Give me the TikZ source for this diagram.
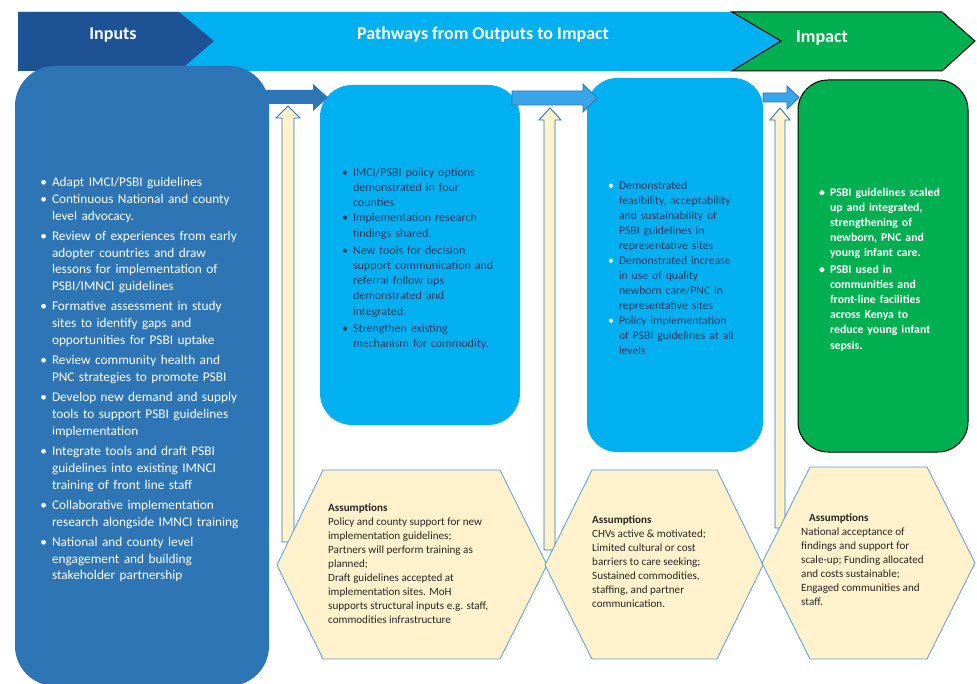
\documentclass[tikz,border=0pt]{standalone}
\usepackage{fontspec}
\setmainfont{Carlito}
\usepackage{enumitem}
\usetikzlibrary{positioning,calc}
\definecolor{bandnavy}{HTML}{1D5294}
\definecolor{skyblue}{HTML}{00B0F0}
\definecolor{midblue}{HTML}{2E75B6}
\definecolor{impgreen}{HTML}{00B050}
\definecolor{cream}{HTML}{FFF2CC}
\definecolor{hexline}{HTML}{5B9BD5}
\definecolor{navytext}{HTML}{1F3864}
\definecolor{arrowblue}{HTML}{3AA6EA}
\definecolor{notegray}{HTML}{262626}
\setlist[itemize]{topsep=0pt,partopsep=0pt,parsep=0pt,itemsep=0pt,
  label=\textbullet}
\tikzset{
  bandtext/.style={text=white,font=\fontsize{18}{20}\selectfont\bfseries,
                   inner sep=0pt},
  inbox/.style={fill=midblue,rounded corners=40pt,text=white,align=left,
                inner sep=0pt,font=\fontsize{13.3}{16.7}\selectfont},
  outbox/.style={fill=skyblue,rounded corners=32pt,text=navytext,align=left,
                 inner sep=0pt,font=\fontsize{12}{15.3}\selectfont},
  impbox/.style={fill=impgreen,draw=black,line width=1pt,rounded corners=30pt,
                 text=white,align=left,inner sep=0pt,
                 font=\fontsize{11.8}{15.2}\selectfont\bfseries},
  hexcell/.style={fill=cream,draw=hexline,line width=0.8pt,line join=miter},
  hexnote/.style={text=notegray,align=left,inner sep=0pt,anchor=north west,
                  font=\fontsize{11.1}{14}\selectfont},
  uparr/.style={fill=cream,draw=midblue,line width=0.9pt},
  sidearr/.style={fill=arrowblue,draw=midblue,line width=0.9pt}
}

\begin{document}
\begin{tikzpicture}[x=1pt,y=-1pt]
  \useasboundingbox (0,0) rectangle (977,684);
  \fill[white] (0,0) rectangle (977,684);

  % header band
  \fill[skyblue] (18,12) -- (760,12) -- (781,41) -- (760,71) -- (18,71) -- cycle;
  \fill[bandnavy] (18,12) -- (179,12) -- (214,41) -- (179,71) -- (18,71) -- cycle;
  \filldraw[fill=impgreen,draw=black,line width=1pt,line join=miter]
    (732,12) -- (942,12) -- (975,41) -- (942,71) -- (732,71) -- (781,41) -- cycle;
  \node[bandtext] (hin) at (113,35) {Inputs};
  \node[bandtext] (hpath) at (483,35) {Pathways from Outputs to Impact};
  \node[bandtext] (himp) at (822,38) {Impact};

  % upward assumption arrows
  \draw[uparr] (282,542) -- (282,118) -- (276,118) -- (288,106) -- (300,118)
    -- (294,118) -- (294,542) -- cycle;
  \draw[uparr] (544,550) -- (544,120) -- (539,120) -- (550,108) -- (561,120)
    -- (555,120) -- (555,550) -- cycle;
  \draw[uparr] (775,528) -- (775,120) -- (770,120) -- (780,108) -- (790,120)
    -- (785,120) -- (785,528) -- cycle;

  % inputs
  \node[inbox,minimum width=254pt,minimum height=620pt,text width=204pt]
    (inputs) at (142,376) {%
    \begin{itemize}[leftmargin=12pt,itemsep=3.7pt]
      \item Adapt IMCI/PSBI guidelines\vspace{-3.7pt}
      \item Continuous National and county\newline level advocacy.
      \item Review of experiences from early\newline adopter countries and draw\newline
            lessons for implementation of\newline PSBI/IMNCI guidelines
      \item Formative assessment in study\newline sites to identify gaps and\newline
            opportunities for PSBI uptake
      \item Review community health and\newline PNC strategies to promote PSBI
      \item Develop new demand and supply\newline tools to support PSBI guidelines\newline
            implementation
      \item Integrate tools and draft PSBI\newline guidelines into existing IMNCI\newline
            training of front line staff
      \item Collaborative implementation\newline research alongside IMNCI training
      \item National and county level\newline engagement and building\newline
            stakeholder partnership
    \end{itemize}};

  % outputs
  \node[outbox,minimum width=200pt,minimum height=340pt,text width=152pt]
    (outputs) at (420,255) {%
    \begin{itemize}[leftmargin=9pt,itemsep=1.5pt]
      \item IMCI/PSBI policy options\newline demonstrated in four\newline
            counties.\vspace{-1.5pt}
      \item Implementation research\newline findings shared.
      \item New tools for decision\newline support communication and\newline
            referral follow ups\newline demonstrated and\newline integrated.
      \item Strengthen existing\newline mechanism for commodity.
    \end{itemize}};

  % outcomes
  \node[outbox,rounded corners=30pt,minimum width=176pt,minimum height=374pt,
        text width=132pt,font=\fontsize{11.7}{15}\selectfont]
    (outcomes) at (675,265) {%
    \begin{itemize}[leftmargin=10pt,label={\color{white}\textbullet}]
      \item Demonstrated\newline feasibility, acceptability\newline
            and sustainability of\newline PSBI guidelines in\newline
            representative sites
      \item Demonstrated increase\newline in use of quality\newline
            newborn care/PNC in\newline representative sites
      \item Policy implementation\newline of PSBI guidelines at all\newline levels
    \end{itemize}};

  % impact
  \node[impbox,minimum width=170pt,minimum height=372pt,text width=128pt]
    (impact) at (883,266) {%
    \begin{itemize}[leftmargin=11pt,itemsep=1pt]
      \item PSBI guidelines scaled\newline up and integrated,\newline
            strengthening of\newline newborn, PNC and\newline young infant care.
      \item PSBI used in\newline communities and\newline front-line facilities\newline
            across Kenya to\newline reduce young infant\newline sepsis.
    \end{itemize}};

  % forward arrows
  \fill[midblue] (250,90) -- (313,90) -- (313,84) -- (328,97.5) -- (313,111)
    -- (313,104) -- (250,104) -- cycle;
  \draw[sidearr] (512,91) -- (583,91) -- (583,84) -- (597,98) -- (583,112)
    -- (583,105) -- (512,105) -- cycle;
  \draw[sidearr] (763,93) -- (787,93) -- (787,86) -- (799,97.5) -- (787,109)
    -- (787,102) -- (763,102) -- cycle;

  % assumptions
  \draw[hexcell] (323,470) -- (500,470) -- (547,565) -- (500,659) -- (323,659)
    -- (277,565) -- cycle;
  \draw[hexcell] (592,470) -- (717,470) -- (763,565) -- (717,659) -- (592,659)
    -- (545,565) -- cycle;
  \draw[hexcell] (810,467) -- (927,467) -- (975,563) -- (927,659) -- (810,659)
    -- (762,563) -- cycle;

  \node[hexnote] (asm1) at (328,503) {%
    \textbf{Assumptions}\\
    Policy and county support for new\\
    implementation guidelines;\\
    Partners will perform training as\\
    planned;\\
    Draft guidelines accepted at\\
    implementation sites. MoH\\
    supports structural inputs e.g. staff,\\
    commodities infrastructure};
  \node[hexnote] (asm2) at (592,515) {%
    \textbf{Assumptions}\\
    CHVs active \& motivated;\\
    Limited cultural or cost\\
    barriers to care seeking;\\
    Sustained commodities,\\
    staffing, and partner\\
    communication.};
  \node[hexnote] (asm3) at (801,513) {%
    \hspace*{8pt}\textbf{Assumptions}\\
    National acceptance of\\
    findings and support for\\
    scale-up; Funding allocated\\
    and costs sustainable;\\
    Engaged communities and\\
    staff.};
\end{tikzpicture}
\end{document}
